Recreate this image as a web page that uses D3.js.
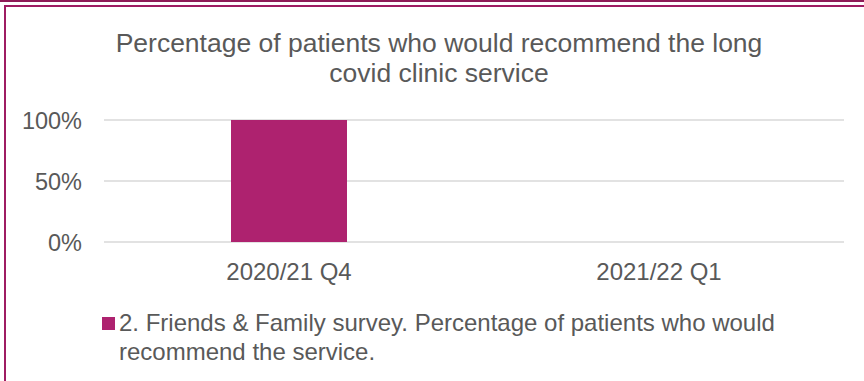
<!DOCTYPE html>
<html>
<head>
<meta charset="utf-8">
<script src="https://cdn.jsdelivr.net/npm/d3@7"></script>
<style>
  body { margin:0; background:#fff; }
  svg text { font-family: "Liberation Sans", Arial, sans-serif; fill:#595959; }
</style>
</head>
<body>
<div id="chart"></div>
<script>
// data
const categories = ['2020/21 Q4', '2021/22 Q1'];
const values     = [1.0, null];          // second quarter has no data
const yTicks     = [0, 0.5, 1];
const seriesName = '2. Friends & Family survey. Percentage of patients who would recommend the service.';
const titleLines = ['Percentage of patients who would recommend the long', 'covid clinic service'];

const WIDTH = 864, HEIGHT = 381;
const PLOT = {left:104, right:844, top:120, bottom:242};
const BAR_COLOR = '#AE226F';
const FS = '23.5px';

const svg = d3.select('#chart').append('svg')
  .attr('width', WIDTH).attr('height', HEIGHT);

// frame lines
svg.append('rect').attr('x',0).attr('y',0).attr('width',WIDTH).attr('height',2).attr('fill','#8E1B57');
svg.append('rect').attr('x',4).attr('y',5).attr('width',WIDTH-4).attr('height',2).attr('fill','#9E1C62');
svg.append('rect').attr('x',4).attr('y',5).attr('width',2).attr('height',HEIGHT-5).attr('fill','#9E1C62');

// title
svg.append('text')
  .attr('x', 439).attr('y', 52)
  .attr('text-anchor','middle')
  .style('font-size','26.5px')
  .selectAll('tspan').data(titleLines).enter().append('tspan')
  .attr('x', 439).attr('dy',(d,i)=>i ? 30 : 0)
  .text(d=>d);

const x = d3.scaleBand().domain(categories).range([PLOT.left, PLOT.right]).paddingInner(0).paddingOuter(0);
const y = d3.scaleLinear().domain([0,1]).range([PLOT.bottom, PLOT.top]);

// gridlines
svg.append('g').selectAll('line').data(yTicks).enter().append('line')
  .attr('x1', PLOT.left).attr('x2', PLOT.right)
  .attr('y1', d=>y(d)).attr('y2', d=>y(d))
  .attr('stroke','#d9d9d9').attr('stroke-width',1.3);

// y axis labels
const yAxis = svg.append('g')
  .attr('transform',`translate(${PLOT.left},0)`)
  .call(d3.axisLeft(y).tickValues(yTicks).tickFormat(d3.format('.0%')).tickSize(0).tickPadding(22));
yAxis.select('.domain').remove();
yAxis.selectAll('text').style('font-size',FS).attr('dy','0.36em').style('fill','#595959');

// bars
const bw = 116;
svg.append('g').selectAll('rect')
  .data(categories.map((c,i)=>({c, v:values[i]})).filter(d=>d.v!=null))
  .enter().append('rect')
  .attr('x', d=>x(d.c) + x.bandwidth()/2 - bw/2)
  .attr('width', bw)
  .attr('y', d=>y(d.v))
  .attr('height', d=>y(0)-y(d.v))
  .attr('fill', BAR_COLOR);

// x axis labels
const xAxis = svg.append('g')
  .attr('transform',`translate(0,${PLOT.bottom})`)
  .call(d3.axisBottom(x).tickSize(0).tickPadding(21));
xAxis.select('.domain').remove();
xAxis.selectAll('text').style('font-size','24px').style('fill','#595959');

// legend
const lg = svg.append('g');
lg.append('rect').attr('x',102).attr('y',317).attr('width',13).attr('height',13).attr('fill',BAR_COLOR);
const words = seriesName.split(' ');
const line1 = words.slice(0, 10).join(' ');
const line2 = words.slice(10).join(' ');
lg.append('text').attr('x',119).attr('y',331).style('font-size','24px').text(line1);
lg.append('text').attr('x',119).attr('y',360).style('font-size','24px').text(line2);
</script>
</body>
</html>
